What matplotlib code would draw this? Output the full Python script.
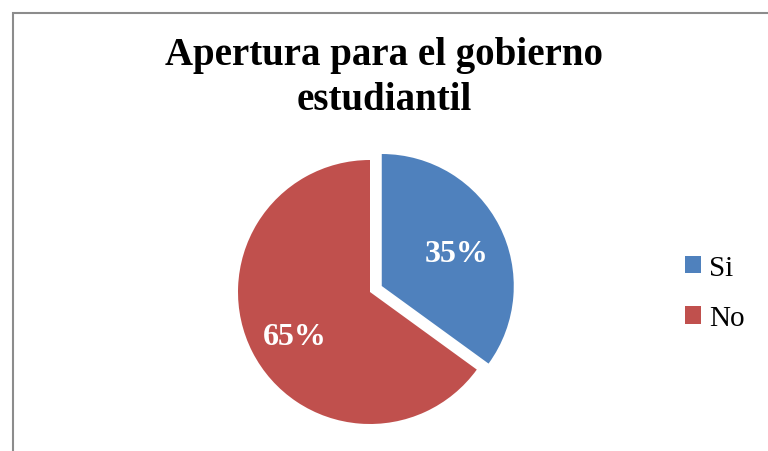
import matplotlib.pyplot as plt
from matplotlib.patches import Rectangle, Patch

plt.rcParams['font.family'] = ['Liberation Serif', 'DejaVu Serif']

# datos
categorias = ['Si', 'No']
valores = [35, 65]
colores = ['#4F81BD', '#C0504D']
titulo = 'Apertura para el gobierno\nestudiantil'

W, H = 768, 452
fig = plt.figure(figsize=(W / 100, H / 100), dpi=100)

# marco gris del grafico
fig.add_artist(Rectangle((12.5 / W, -0.1), 2, (H - 13.5) / H + 0.1,
                         transform=fig.transFigure, fill=False,
                         edgecolor='#8c8c8c', linewidth=1.5))

# ejes del pastel: centro (370, 293), radio 132 px
r = 132
cx, cy = 370, H - 293
lim = 1.2
ax = fig.add_axes([(cx - lim * r) / W, (cy - lim * r) / H, 2 * lim * r / W, 2 * lim * r / H])
wedges, textos, autotextos = ax.pie(valores, colors=colores, startangle=90, counterclock=False,
                                    explode=[0.1, 0], autopct='%1.0f%%', pctdistance=0.64,
                                    textprops=dict(color='white', fontsize=23, fontweight='bold'))
# bajar un poco las etiquetas
for t in autotextos:
    x, y = t.get_position()
    t.set_position((x, y - 0.045))
ax.set_xlim(-lim, lim)
ax.set_ylim(-lim, lim)
ax.set_aspect('equal')
ax.axis('off')

fig.text(0.5, 1 - 37 / H, titulo, ha='center', va='top', fontsize=28,
         fontweight='bold', linespacing=1.3)

handles = [Patch(facecolor=c, edgecolor='none') for c in colores]
fig.legend(handles, categorias, loc='center left', bbox_to_anchor=(670 / W, 1 - 294 / H),
           frameon=False, fontsize=21, handlelength=0.55, handleheight=0.55,
           handletextpad=0.3, labelspacing=0.85, borderpad=0)

fig.savefig('out.png', dpi=100)
